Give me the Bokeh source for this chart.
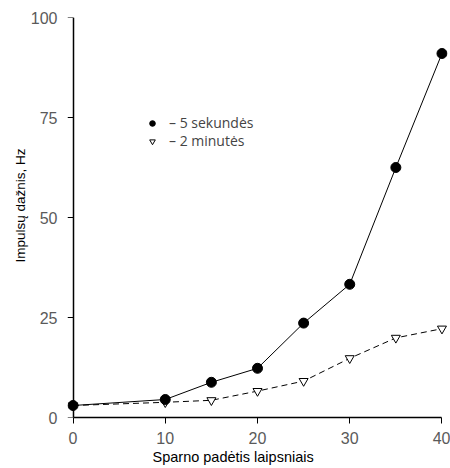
from bokeh.plotting import figure
from bokeh.models import Range1d, Legend, LegendItem, FixedTicker, LinearAxis, Title
from bokeh.embed import file_html
from bokeh.resources import INLINE

angles = [0, 10, 15, 20, 25, 30, 35, 40]
sec5 = [3.0, 4.5, 8.8, 12.3, 23.6, 33.3, 62.5, 91.0]
min2 = [3.0, 3.8, 4.3, 6.6, 9.1, 14.8, 19.9, 22.2]
x_ticks = [0, 10, 20, 30, 40]
y_ticks = [0, 25, 50, 75, 100]
x_label = "Sparno padėtis laipsniais"
y_label = "Impulsų dažnis, Hz"
labels = ["– 5 sekundės", "– 2 minutės"]

p = figure(width=450, height=468, output_backend="svg", toolbar_location=None,
           x_range=Range1d(-0.6, 40.6), y_range=Range1d(0, 100),
           min_border_left=67, min_border_right=3, min_border_top=17, min_border_bottom=51)
p.outline_line_color = None
p.grid.visible = False
p.background_fill_color = "white"
p.border_fill_color = "white"

TICK_FONT = "Liberation Sans"
TICK_COLOR = "#5a5a5a"

# x axis
xa = p.xaxis[0]
xa.ticker = FixedTicker(ticks=x_ticks)
xa.bounds = (0, 40)
xa.axis_line_color = "black"
xa.axis_line_width = 1.5
xa.major_tick_line_color = "black"
xa.major_tick_out = 6
xa.major_tick_in = 0
xa.minor_tick_line_color = None
xa.major_label_text_font = TICK_FONT
xa.major_label_text_font_size = "16px"
xa.major_label_text_color = TICK_COLOR
xa.major_label_standoff = 8

# y axis: labels only at frame edge
ya = p.yaxis[0]
ya.ticker = FixedTicker(ticks=y_ticks)
ya.axis_line_color = None
ya.major_tick_line_color = None
ya.minor_tick_line_color = None
ya.major_tick_out = 0
ya.major_tick_in = 0
ya.major_label_text_font = TICK_FONT
ya.major_label_text_font_size = "16px"
ya.major_label_text_color = TICK_COLOR
ya.major_label_standoff = 10

# y axis line and ticks at x = 0 (no labels)
yline = LinearAxis(fixed_location=0, ticker=FixedTicker(ticks=y_ticks),
                   axis_line_color="black", axis_line_width=1.5,
                   major_tick_line_color="black", major_tick_in=6, major_tick_out=0,
                   minor_tick_line_color=None,
                   major_label_overrides={t: "" for t in y_ticks},
                   major_label_standoff=0)
p.add_layout(yline, "right")

# axis titles
p.add_layout(Title(text=x_label, align="left", offset=85, text_font="Liberation Sans",
                   text_font_style="normal", text_font_size="14.5px",
                   text_color="black", standoff=0), "below")
p.add_layout(Title(text=y_label, align="left", offset=155, text_font="Liberation Sans",
                   text_font_style="normal", text_font_size="13.5px",
                   text_color="black", standoff=0), "left")

p.line(angles, min2, line_color="black", line_width=1, line_dash="6 4")
p.line(angles, sec5, line_color="black", line_width=1)
r2 = p.scatter(angles, min2, marker="inverted_triangle", size=9,
               fill_color="white", line_color="black", line_width=1)
r1 = p.scatter(angles, sec5, marker="circle", size=10,
               fill_color="black", line_color="black")

leg_style = dict(border_line_color=None, background_fill_alpha=0,
                 padding=0, margin=0, glyph_width=14, glyph_height=14,
                 label_standoff=10, spacing=0, label_text_font="Open Sans",
                 label_text_font_size="14px", label_height=14)
leg1 = Legend(items=[LegendItem(label=labels[0], renderers=[r1])],
              location=(78, 285), **leg_style)
leg2 = Legend(items=[LegendItem(label=labels[1], renderers=[r2])],
              location=(78, 267), **leg_style)
p.add_layout(leg1, "center")
p.add_layout(leg2, "center")

open("out.html", "w").write(file_html(p, INLINE))
